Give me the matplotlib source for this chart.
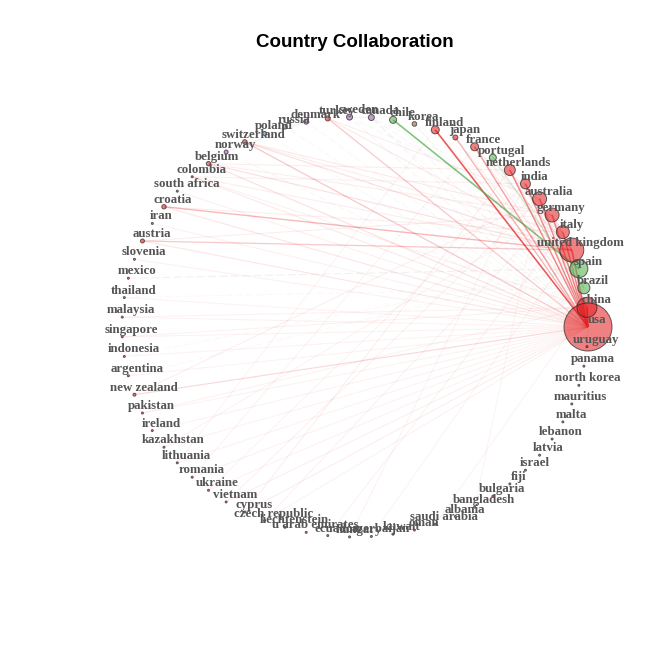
import numpy as np
import matplotlib.pyplot as plt

# vertex order of the circle layout (counter-clockwise from the right)
countries = ["usa", "china", "brazil", "spain", "united kingdom", "italy", "germany",
             "australia", "india", "netherlands", "portugal", "france", "japan", "finland",
             "korea", "chile", "canada", "sweden", "turkey", "denmark", "russia", "poland",
             "switzerland", "norway", "belgium", "colombia", "south africa", "croatia", "iran",
             "austria", "slovenia", "mexico", "thailand", "malaysia", "singapore", "indonesia",
             "argentina", "new zealand", "pakistan", "ireland", "kazakhstan", "lithuania",
             "romania", "ukraine", "vietnam", "cyprus", "czech republic", "liechtenstein",
             "u arab emirates", "ecuador", "hungary", "azerbaijan", "kuwait", "oman",
             "saudi arabia", "albania", "bangladesh", "bulgaria", "fiji", "israel", "latvia",
             "lebanon", "malta", "mauritius", "north korea", "panama", "uruguay"]

# node radius in pixels
radius = [24, 10, 6, 9, 12, 6.5, 7, 7, 5, 5.5, 3.5, 4, 2.5, 4,
          2.3, 3.5, 3, 3, 2.5, 2.5, 2.3, 2, 2.3, 2, 2.2, 1, 1, 2.2, 1,
          2, 1, 1, 1, 1, 1, 1, 1, 1.5, 1, 1, 1, 1, 1, 1, 1, 1, 1, 1,
          1, 1, 1, 1, 1, 1, 1, 1, 1, 1, 1, 1, 1, 1, 1, 1, 1, 1, 1]

# cluster of each node: r red, g green, p purple, b blue, o brown
cluster = ["r", "r", "g", "g", "r", "r", "r", "r", "r", "r", "g", "r", "r", "r",
           "o", "g", "p", "p", "r", "p", "p", "b", "r", "p", "r", "r", "r", "r", "r",
           "r", "r", "r", "r", "r", "r", "r", "r", "r", "r", "r", "r", "r", "r", "r",
           "r", "r", "r", "r", "r", "r", "r", "r", "r", "r", "r", "r", "r", "r", "r",
           "r", "r", "r", "r", "r", "r", "r", "r"]

palette = {"r": "#E41A1C", "g": "#4DAF4A", "p": "#984EA3", "b": "#377EB8", "o": "#A65628"}

# collaboration links (country a, country b, strength)
edges = [
    ("usa", "china", 5), ("usa", "united kingdom", 4), ("usa", "finland", 4.5),
    ("usa", "australia", 3.5), ("usa", "germany", 3.5), ("usa", "italy", 3.5),
    ("usa", "india", 3.5), ("usa", "netherlands", 3.5), ("usa", "france", 3),
    ("usa", "japan", 2.5), ("chile", "spain", 4.5), ("croatia", "united kingdom", 2.5),
    ("austria", "united kingdom", 2), ("usa", "turkey", 2), ("usa", "switzerland", 2),
    ("usa", "new zealand", 1.5), ("portugal", "brazil", 2), ("spain", "brazil", 1.5),
    ("united kingdom", "switzerland", 1.2), ("united kingdom", "belgium", 1.2),
    ("usa", "belgium", 1.2), ("usa", "croatia", 1), ("usa", "austria", 1),
    ("usa", "colombia", 0.8), ("usa", "south africa", 0.5), ("usa", "iran", 0.4),
    ("usa", "slovenia", 0.4), ("usa", "thailand", 0.3), ("usa", "malaysia", 0.3),
    ("usa", "singapore", 0.4), ("usa", "indonesia", 0.3), ("usa", "argentina", 0.3),
    ("usa", "pakistan", 0.3), ("usa", "ireland", 0.3), ("usa", "kazakhstan", 0.3),
    ("usa", "vietnam", 0.5), ("usa", "cyprus", 0.6), ("usa", "czech republic", 0.3),
    ("usa", "lithuania", 0.3), ("usa", "romania", 0.3), ("usa", "ukraine", 0.3),
    ("germany", "switzerland", 0.8), ("germany", "belgium", 0.6), ("italy", "croatia", 0.6),
    ("italy", "switzerland", 0.6), ("germany", "austria", 0.6), ("australia", "new zealand", 0.5),
    ("netherlands", "belgium", 0.6), ("united kingdom", "colombia", 0.6),
    ("united kingdom", "turkey", 0.8), ("australia", "turkey", 0.6), ("india", "colombia", 0.5),
    ("china", "colombia", 0.5), ("china", "singapore", 0.4), ("china", "malaysia", 0.3),
    ("germany", "italy", 1), ("germany", "united kingdom", 1), ("italy", "united kingdom", 1),
    ("australia", "united kingdom", 1), ("india", "united kingdom", 0.8),
    ("netherlands", "united kingdom", 0.8), ("france", "united kingdom", 0.8),
    ("france", "china", 0.8), ("japan", "china", 0.6), ("finland", "china", 0.6),
    ("netherlands", "china", 1), ("india", "china", 1), ("australia", "china", 1),
    ("cyprus", "netherlands", 0.5), ("vietnam", "australia", 0.4), ("czech republic", "germany", 0.3),
    ("hungary", "india", 0.3), ("ecuador", "italy", 0.3), ("lithuania", "finland", 0.2),
    ("romania", "france", 0.2), ("pakistan", "china", 0.3), ("kazakhstan", "germany", 0.2),
    ("ukraine", "india", 0.2), ("azerbaijan", "united kingdom", 0.2), ("saudi arabia", "china", 0.2),
    ("bangladesh", "australia", 0.2), ("uruguay", "usa", 0.3), ("panama", "usa", 0.3),
    ("mexico", "spain", 1.2), ("usa", "spain", 1.2), ("usa", "brazil", 1.2),
    ("united kingdom", "spain", 1), ("usa", "canada", 0.8), ("usa", "sweden", 0.8),
    ("usa", "portugal", 0.6), ("usa", "chile", 0.6), ("usa", "korea", 0.6),
    ("united kingdom", "canada", 0.5), ("germany", "sweden", 0.5), ("usa", "denmark", 0.5),
    ("usa", "norway", 0.5), ("usa", "russia", 0.4), ("usa", "poland", 0.4),
    ("china", "korea", 0.6), ("australia", "canada", 0.4), ("italy", "spain", 0.6),
    ("germany", "brazil", 0.4), ("netherlands", "spain", 0.4), ("france", "spain", 0.4),
    ("india", "korea", 0.4), ("china", "canada", 0.4), ("italy", "portugal", 0.5),
    ("indonesia", "spain", 0.3), ("thailand", "brazil", 0.3), ("argentina", "spain", 0.3),
    ("canada", "sweden", 0.6), ("denmark", "norway", 0.6), ("russia", "denmark", 0.4),
]

n = len(countries)
cx, cy, rx, ry = 355, 327, 233, 210
ang = 2 * np.pi * np.arange(n) / n
xs = cx + rx * np.cos(ang)
ys = cy - ry * np.sin(ang)
idx = {c: i for i, c in enumerate(countries)}

fig = plt.figure(figsize=(6.72, 6.72), dpi=100)
ax = fig.add_axes([0, 0, 1, 1])
ax.set_xlim(0, 672)
ax.set_ylim(672, 0)
ax.axis("off")

wmax = max(e[2] for e in edges)
for a, b, w in edges:
    i, j = idx[a], idx[b]
    if cluster[i] == cluster[j]:
        col = palette[cluster[i]]
        ls = "-"
    else:
        col = "#999999"
        ls = (0, (7, 3))
    alpha = 0.05 + 0.8 * (w / wmax) ** 1.6
    lw = 0.7 + 0.5 * w / wmax
    ax.plot([xs[i], xs[j]], [ys[i], ys[j]], color=col, lw=lw, alpha=alpha,
            linestyle=ls, zorder=1, solid_capstyle="butt")

for i in range(n):
    d = 2 * radius[i] * 0.72
    ax.scatter(xs[i], ys[i], s=d ** 2, color=palette[cluster[i]], alpha=0.55,
               edgecolors="none", zorder=2)
    ax.scatter(xs[i], ys[i], s=d ** 2, facecolors="none", edgecolors="#222222",
               linewidths=0.7, alpha=0.7, zorder=3)

for i in range(n):
    ax.text(xs[i] + 9, ys[i] - 7, countries[i], ha="center", va="center",
            family="Liberation Serif", fontweight="bold", fontsize=9.3,
            color="#555555", zorder=4)

fig.text(0.528, 0.937, "Country Collaboration", ha="center", va="center",
         family="Liberation Sans", fontweight="bold", fontsize=13.5)

fig.savefig("out.png", dpi=100, facecolor="white")
